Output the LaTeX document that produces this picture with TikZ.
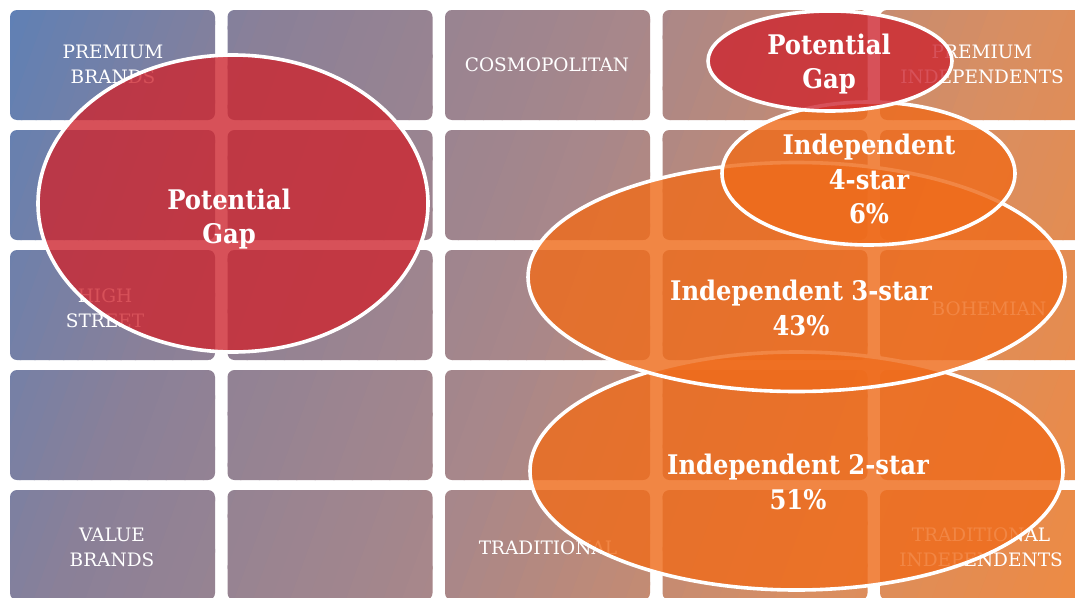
\documentclass[tikz,border=0pt]{standalone}
\usepackage{fontspec}
\newfontfamily\slabfont{DejaVu Serif}
\newfontfamily\slabbold{DejaVu Serif Condensed Bold}
\definecolor{cA}{HTML}{5B80B8}
\definecolor{cB}{HTML}{8A8098}
\definecolor{cC}{HTML}{A8878A}
\definecolor{cD}{HTML}{D88E62}
\definecolor{cE}{HTML}{F08A40}
\definecolor{gapred}{RGB}{205,38,48}
\definecolor{starorange}{RGB}{239,108,28}
\newcommand{\boxfont}{\slabfont\fontsize{18.5}{25}\selectfont}
\newcommand{\ellfont}{\slabbold\fontsize{27}{34.5}\selectfont}
\begin{document}
\begin{tikzpicture}[x=1pt,y=-1pt,
  boxlabel/.style={text=white, font=\boxfont, align=center, inner sep=0pt},
  ellabel/.style={text=white, font=\ellfont, align=center, inner sep=0pt},
  gapfill/.style={fill=gapred, fill opacity=0.8, draw=white, line width=3.6pt},
  starfill/.style={fill=starorange, fill opacity=0.82, draw=white, line width=3.6pt}]
\useasboundingbox (0,0) rectangle (1075,597);
\fill[white] (0,0) rectangle (1075,597);
\clip (0,0) rectangle (1075,597);
% gradient boxes
\begin{scope}
\clip[rounded corners=7pt] \foreach \c in {0,...,4}{\foreach \r in {0,...,4}{ ({10+\c*217.5},{10+\r*120}) rectangle ++(205,110)}};
\begin{scope}[rotate=-20]
\foreach \pa/\pb/\ca/\cb in {-20/250/cA/cB, 250/600/cB/cC, 600/950/cC/cD, 950/1240/cD/cE}{
  \foreach \t in {0,...,19}{
    \pgfmathsetmacro\pp{\pa+(\pb-\pa)*\t/20}
    \pgfmathsetmacro\ww{(\pb-\pa)/20+1}
    \pgfmathtruncatemacro\pc{\t*5}
    \fill[\cb!\pc!\ca] (\pp,-500) rectangle ++(\ww,1500);
  }}
\end{scope}
\end{scope}
% box labels
\node[boxlabel] (pb) at (113,64) {PREMIUM\\BRANDS};
\node[boxlabel] (cosmo) at (547,65) {COSMOPOLITAN};
\node[boxlabel] (pi) at (982,64) {PREMIUM\\INDEPENDENTS};
\node[boxlabel] (hs) at (105,308) {HIGH\\STREET};
\node[boxlabel] (boh) at (989,309) {BOHEMIAN};
\node[boxlabel] (vb) at (112,547) {VALUE\\BRANDS};
\node[boxlabel] (trad) at (548,548) {TRADITIONAL};
\node[boxlabel] (ti) at (981,547) {TRADITIONAL\\INDEPENDENTS};
% ellipses
\draw[gapfill] (233,203.5) ellipse [x radius=195, y radius=148.5];
\draw[starfill] (796.5,471) ellipse [x radius=266.5, y radius=119];
\draw[starfill] (796.5,277) ellipse [x radius=268.5, y radius=114.5];
\draw[starfill] (868.5,173.5) ellipse [x radius=146.5, y radius=71.5];
\draw[gapfill] (830,61) ellipse [x radius=122, y radius=50];
% ellipse labels
\node[ellabel] (gapbig) at (229,219) {Potential\\Gap};
\node[ellabel] (gapsmall) at (829,64) {Potential\\Gap};
\node[ellabel] (four) at (869,179) {Independent\\4-star\\6\%};
\node[ellabel] (three) at (801,308) {Independent 3-star\\43\%};
\node[ellabel] (two) at (798,482) {Independent 2-star\\51\%};
\end{tikzpicture}
\end{document}
